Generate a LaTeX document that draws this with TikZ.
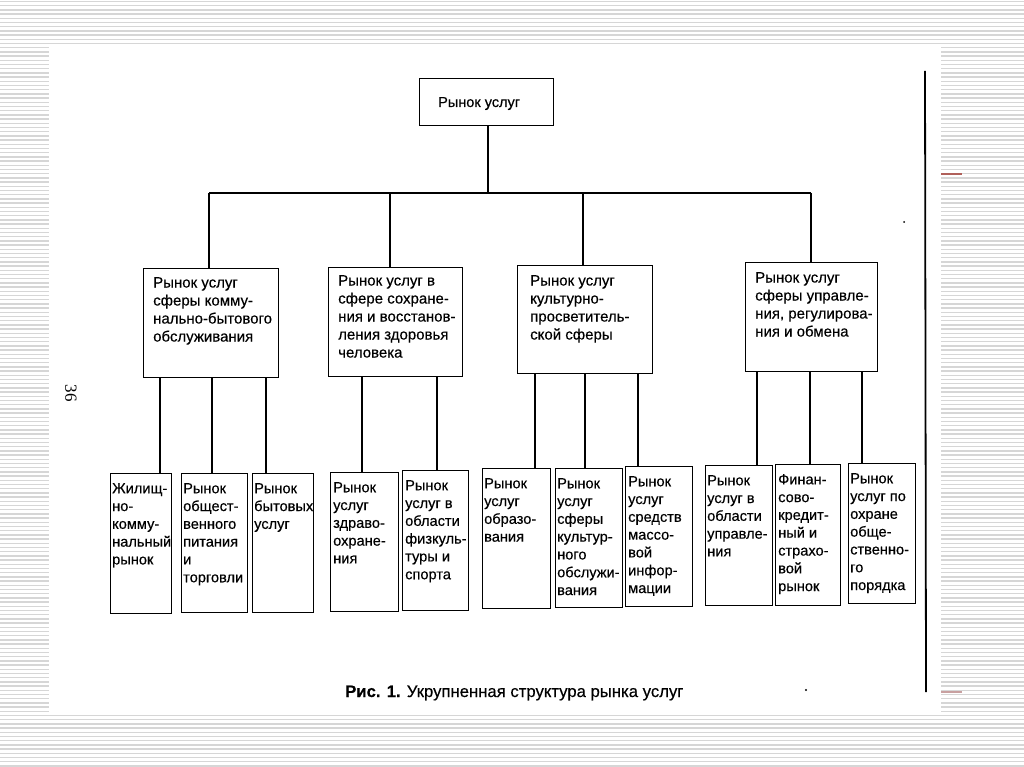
\documentclass[tikz,border=0pt]{standalone}
\usepackage{fontspec}
\setmainfont{Liberation Sans}[FakeBold=0.35,BoldFeatures={FakeBold=0.35}]
\newfontfamily\seriffont{Liberation Serif}
\begin{document}
\begin{tikzpicture}[x=1pt,y=-1pt,
  box/.style={draw=black,line width=1.4pt,fill=white,inner sep=0pt,anchor=north west},
  txt/.style={inner sep=0pt,anchor=north west,align=left,font=\fontsize{14.6}{17.8}\selectfont},
  txtb/.style={inner sep=0pt,anchor=north west,align=left,font=\fontsize{15}{18}\selectfont},
  link/.style={draw=black,line width=1.3pt},
  stripe/.style={draw=gray!32,line width=1.4pt}]
\useasboundingbox (0,0) rectangle (1024,767);
% striped background
\foreach \i in {0,...,182}{
  \draw[stripe] (0,{1.5+\i*4.2}) -- (1024,{1.5+\i*4.2});
}
\fill[white] (49,47) rectangle (941,713);
% red marks
\draw[line width=1.3pt,color={rgb,255:red,176;green,96;blue,90}] (941,174) -- (962,174);
\draw[line width=1.3pt,color={rgb,255:red,200;green,160;blue,160}] (941,692) -- (962,692);
% right border line
\draw[line width=1.8pt] (925,71) -- (926,692);
% page number
\node[inner sep=0pt,rotate=-90,font=\seriffont\fontsize{17}{17}\selectfont] (pg) at (71,393) {36};
% small marks
\fill (904,222) circle (1pt);
\fill (806,690) circle (1.1pt);

% top box
\node[box,minimum width=134pt,minimum height=47pt] (top) at (419,78) {};
\node[inner sep=0pt,anchor=base west,font=\fontsize{14.5}{18}\selectfont] (toptxt) at (438,107) {Рынок услуг};

% level 2 boxes
\node[box,minimum width=135pt,minimum height=109pt] (b1) at (143,268) {};
\node[box,minimum width=134pt,minimum height=109pt] (b2) at (328,267) {};
\node[box,minimum width=135pt,minimum height=108pt] (b3) at (517,265) {};
\node[box,minimum width=132pt,minimum height=109pt] (b4) at (745,262) {};
\node[txtb] (b1t) at (153,277) {Рынок услуг\\сферы комму-\\нально-бытового\\обслуживания};
\node[txtb] (b2t) at (338,275) {Рынок услуг в\\сфере сохране-\\ния и восстанов-\\ления здоровья\\человека};
\node[txtb] (b3t) at (530,275) {Рынок услуг\\культурно-\\просветитель-\\ской сферы};
\node[txtb] (b4t) at (755,272) {Рынок услуг\\сферы управле-\\ния, регулирова-\\ния и обмена};

% level 3 boxes
\node[box,minimum width=61pt,minimum height=140pt] (l1) at (110,473) {};
\node[box,minimum width=66pt,minimum height=139pt] (l2) at (181,473) {};
\node[box,minimum width=61pt,minimum height=139pt] (l3) at (252,473) {};
\node[box,minimum width=68pt,minimum height=139pt] (l4) at (330,472) {};
\node[box,minimum width=66pt,minimum height=140pt] (l5) at (402,470) {};
\node[box,minimum width=68pt,minimum height=140pt] (l6) at (482,468) {};
\node[box,minimum width=67pt,minimum height=139pt] (l7) at (555,468) {};
\node[box,minimum width=67pt,minimum height=140pt] (l8) at (625,466) {};
\node[box,minimum width=67pt,minimum height=140pt] (l9) at (705,465) {};
\node[box,minimum width=65pt,minimum height=141pt] (l10) at (775,464) {};
\node[box,minimum width=67pt,minimum height=140pt] (l11) at (848,463) {};

\node[txt] (l1t) at (112,483) {Жилищ-\\но-\\комму-\\нальный\\рынок};
\node[txt] (l2t) at (183,483) {Рынок\\общест-\\венного\\питания\\и\\торговли};
\node[txt] (l3t) at (254,483) {Рынок\\бытовых\\услуг};
\node[txt] (l4t) at (333,482) {Рынок\\услуг\\здраво-\\охране-\\ния};
\node[txt] (l5t) at (405,480) {Рынок\\услуг в\\области\\физкуль-\\туры и\\спорта};
\node[txt] (l6t) at (484,478) {Рынок\\услуг\\образо-\\вания};
\node[txt] (l7t) at (557,478) {Рынок\\услуг\\сферы\\культур-\\ного\\обслужи-\\вания};
\node[txt] (l8t) at (628,476) {Рынок\\услуг\\средств\\массо-\\вой\\инфор-\\мации};
\node[txt] (l9t) at (707,475) {Рынок\\услуг в\\области\\управле-\\ния};
\node[txt] (l10t) at (778,474) {Финан-\\сово-\\кредит-\\ный и\\страхо-\\вой\\рынок};
\node[txt] (l11t) at (850,473) {Рынок\\услуг по\\охране\\обще-\\ственно-\\го\\порядка};

% bus
\coordinate (busL) at (209,193);
\coordinate (busR) at (811,193);
\coordinate (x2) at (390,0);
\coordinate (x3) at (583,0);
\draw[link] (top.south -| 488,0) -- (488,193);
\draw[link] (busL) -- (busR);
\draw[link] (busL) -- (b1.north -| busL);
\draw[link] (busL -| x2) -- (b2.north -| x2);
\draw[link] (busL -| x3) -- (b3.north -| x3);
\draw[link] (busR) -- (b4.north -| busR);

% drops to level 3
\foreach \p/\q/\xx in {b1/l1/160,b1/l2/212,b1/l3/266,b2/l4/362,b2/l5/437,b3/l6/535,b3/l7/585,b3/l8/638,b4/l9/757,b4/l10/810,b4/l11/862}{
  \coordinate (d) at (\xx,0);
  \draw[link] (\p.south -| d) -- (\q.north -| d);
}

% caption
\node[inner sep=0pt,anchor=base west,font=\fontsize{16.7}{18}\selectfont] (cap) at (345,697) {\textbf{Рис. 1.} Укрупненная структура рынка услуг};
\end{tikzpicture}
\end{document}
